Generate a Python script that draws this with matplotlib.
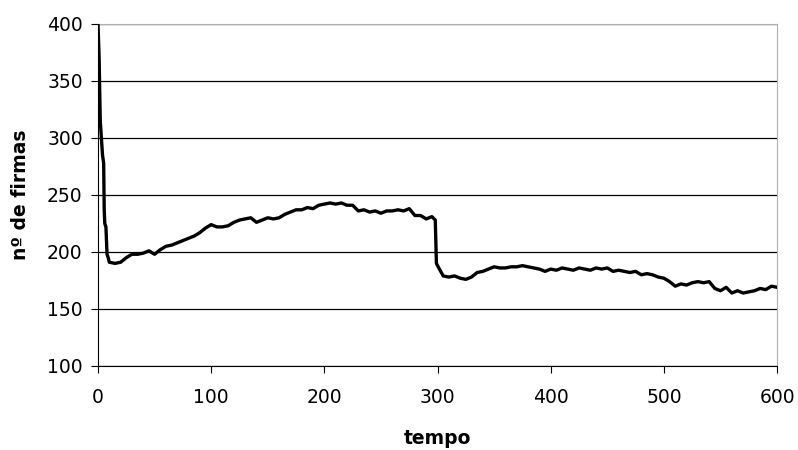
import matplotlib
matplotlib.use('Agg')
import matplotlib.pyplot as plt

# Number of firms over time
tempo = [0, 1, 2, 3, 4, 5, 5.5, 6, 7, 8, 9,
         10, 15, 20, 25, 30, 35, 40, 45, 50, 55, 60, 65, 70, 75, 80, 85, 90, 95,
         100, 105, 110, 115, 120, 125, 130, 135, 140, 145, 150, 155, 160, 165,
         170, 175, 180, 185, 190, 195, 200, 205, 210, 215, 220, 225, 230, 235,
         240, 245, 250, 255, 260, 265, 270, 275, 280, 285, 290, 295, 298, 299,
         300, 305, 310, 315, 320, 325, 330, 335, 340, 345, 350, 355, 360, 365,
         370, 375, 380, 385, 390, 395, 400, 405, 410, 415, 420, 425, 430, 435,
         440, 445, 450, 455, 460, 465, 470, 475, 480, 485, 490, 495, 500, 505,
         510, 515, 520, 525, 530, 535, 540, 545, 550, 555, 560, 565, 570, 575,
         580, 585, 590, 595, 600]
firmas = [400, 370, 315, 300, 285, 278, 237, 225, 222, 198, 195,
          191, 190, 191, 195, 198, 198, 199, 201, 198, 202, 205, 206, 208, 210,
          212, 214, 217, 221, 224, 222, 222, 223, 226, 228, 229, 230, 226, 228,
          230, 229, 230, 233, 235, 237, 237, 239, 238, 241, 242, 243, 242, 243,
          241, 241, 236, 237, 235, 236, 234, 236, 236, 237, 236, 238, 232, 232,
          229, 231, 228, 190,
          188, 179, 178, 179, 177, 176, 178, 182, 183, 185, 187, 186, 186, 187,
          187, 188, 187, 186, 185, 183, 185, 184, 186, 185, 184, 186, 185, 184,
          186, 185, 186, 183, 184, 183, 182, 183, 180, 181, 180, 178, 177, 174,
          170, 172, 171, 173, 174, 173, 174, 168, 166, 169, 164, 166, 164, 165,
          166, 168, 167, 170, 169]

plt.rcParams['font.family'] = ['DejaVu Sans']

fig = plt.figure(figsize=(7.98, 4.5), dpi=100)
ax = fig.add_axes([0.1228, 0.1867, 0.851, 0.76])

ax.plot(tempo, firmas, color='black', linewidth=2.4,
        solid_joinstyle='round', zorder=3)

ax.set_xlim(0, 600)
ax.set_ylim(100, 400)
ax.set_xticks(range(0, 601, 100))
ax.set_yticks(range(100, 401, 50))
ax.yaxis.grid(True, color='black', linewidth=0.9)
ax.tick_params(labelsize=13.5, length=5, color='black')
ax.tick_params(axis='x', pad=11)
ax.tick_params(axis='y', pad=6)

for s in ['top', 'right']:
    ax.spines[s].set_color('#b0b0b0')
for s in ['left', 'bottom']:
    ax.spines[s].set_color('black')

ax.set_xlabel('tempo', fontsize=13.5, fontweight='bold', labelpad=16)
ax.set_ylabel('nº de firmas', fontsize=13.5, fontweight='bold', labelpad=12)

plt.savefig('out.png', dpi=100)
